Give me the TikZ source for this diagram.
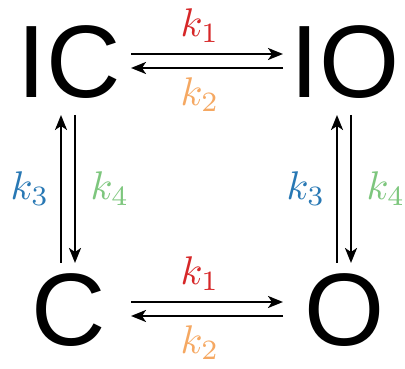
\documentclass[tikz,border=0pt]{standalone}
\usepackage{fontspec}
\usetikzlibrary{arrows.meta}
\newfontfamily\statefont{Liberation Sans}
\definecolor{kone}{RGB}{214,39,40}
\definecolor{ktwo}{RGB}{245,168,98}
\definecolor{kthree}{RGB}{40,120,180}
\definecolor{kfour}{RGB}{125,198,125}
\newcommand{\rate}[1]{\scalebox{4}{$k_{#1}$}}
\tikzset{
  state/.style={inner sep=0pt, font=\statefont\fontsize{103}{103}\selectfont},
  rxn/.style={line width=2.2pt, -{Stealth[length=15pt,width=12pt,inset=4pt]}}
}

\begin{document}
\begin{tikzpicture}[x=1pt,y=1pt]
\useasboundingbox (0,0) rectangle (405,369);
\node[state] (IC) at (69,307) {IC};
\node[state] (IO) at (345,307) {IO};
\node[state] (C) at (69,59) {C};
\node[state] (O) at (345,59) {O};
\foreach \a/\b in {IC/IO,C/O} {
  \draw[rxn] ([xshift=62,yshift=8]\a.center) -- ([xshift=-62,yshift=8]\b.center)
    node[midway, anchor=base, xshift=-7, yshift=17, text=kone] {\rate{1}};
  \draw[rxn] ([xshift=-62,yshift=-6]\b.center) -- ([xshift=62,yshift=-6]\a.center)
    node[midway, anchor=base, xshift=-7, yshift=-38, text=ktwo] {\rate{2}};
}
\foreach \a/\b in {IC/C,IO/O} {
  \draw[rxn] ([xshift=-8,yshift=47]\b.center) -- ([xshift=-8,yshift=-53]\a.center)
    node[midway, xshift=-31, text=kthree] {\rate{3}};
  \draw[rxn] ([xshift=6,yshift=-53]\a.center) -- ([xshift=6,yshift=47]\b.center)
    node[midway, xshift=35, text=kfour] {\rate{4}};
}
\end{tikzpicture}
\end{document}
